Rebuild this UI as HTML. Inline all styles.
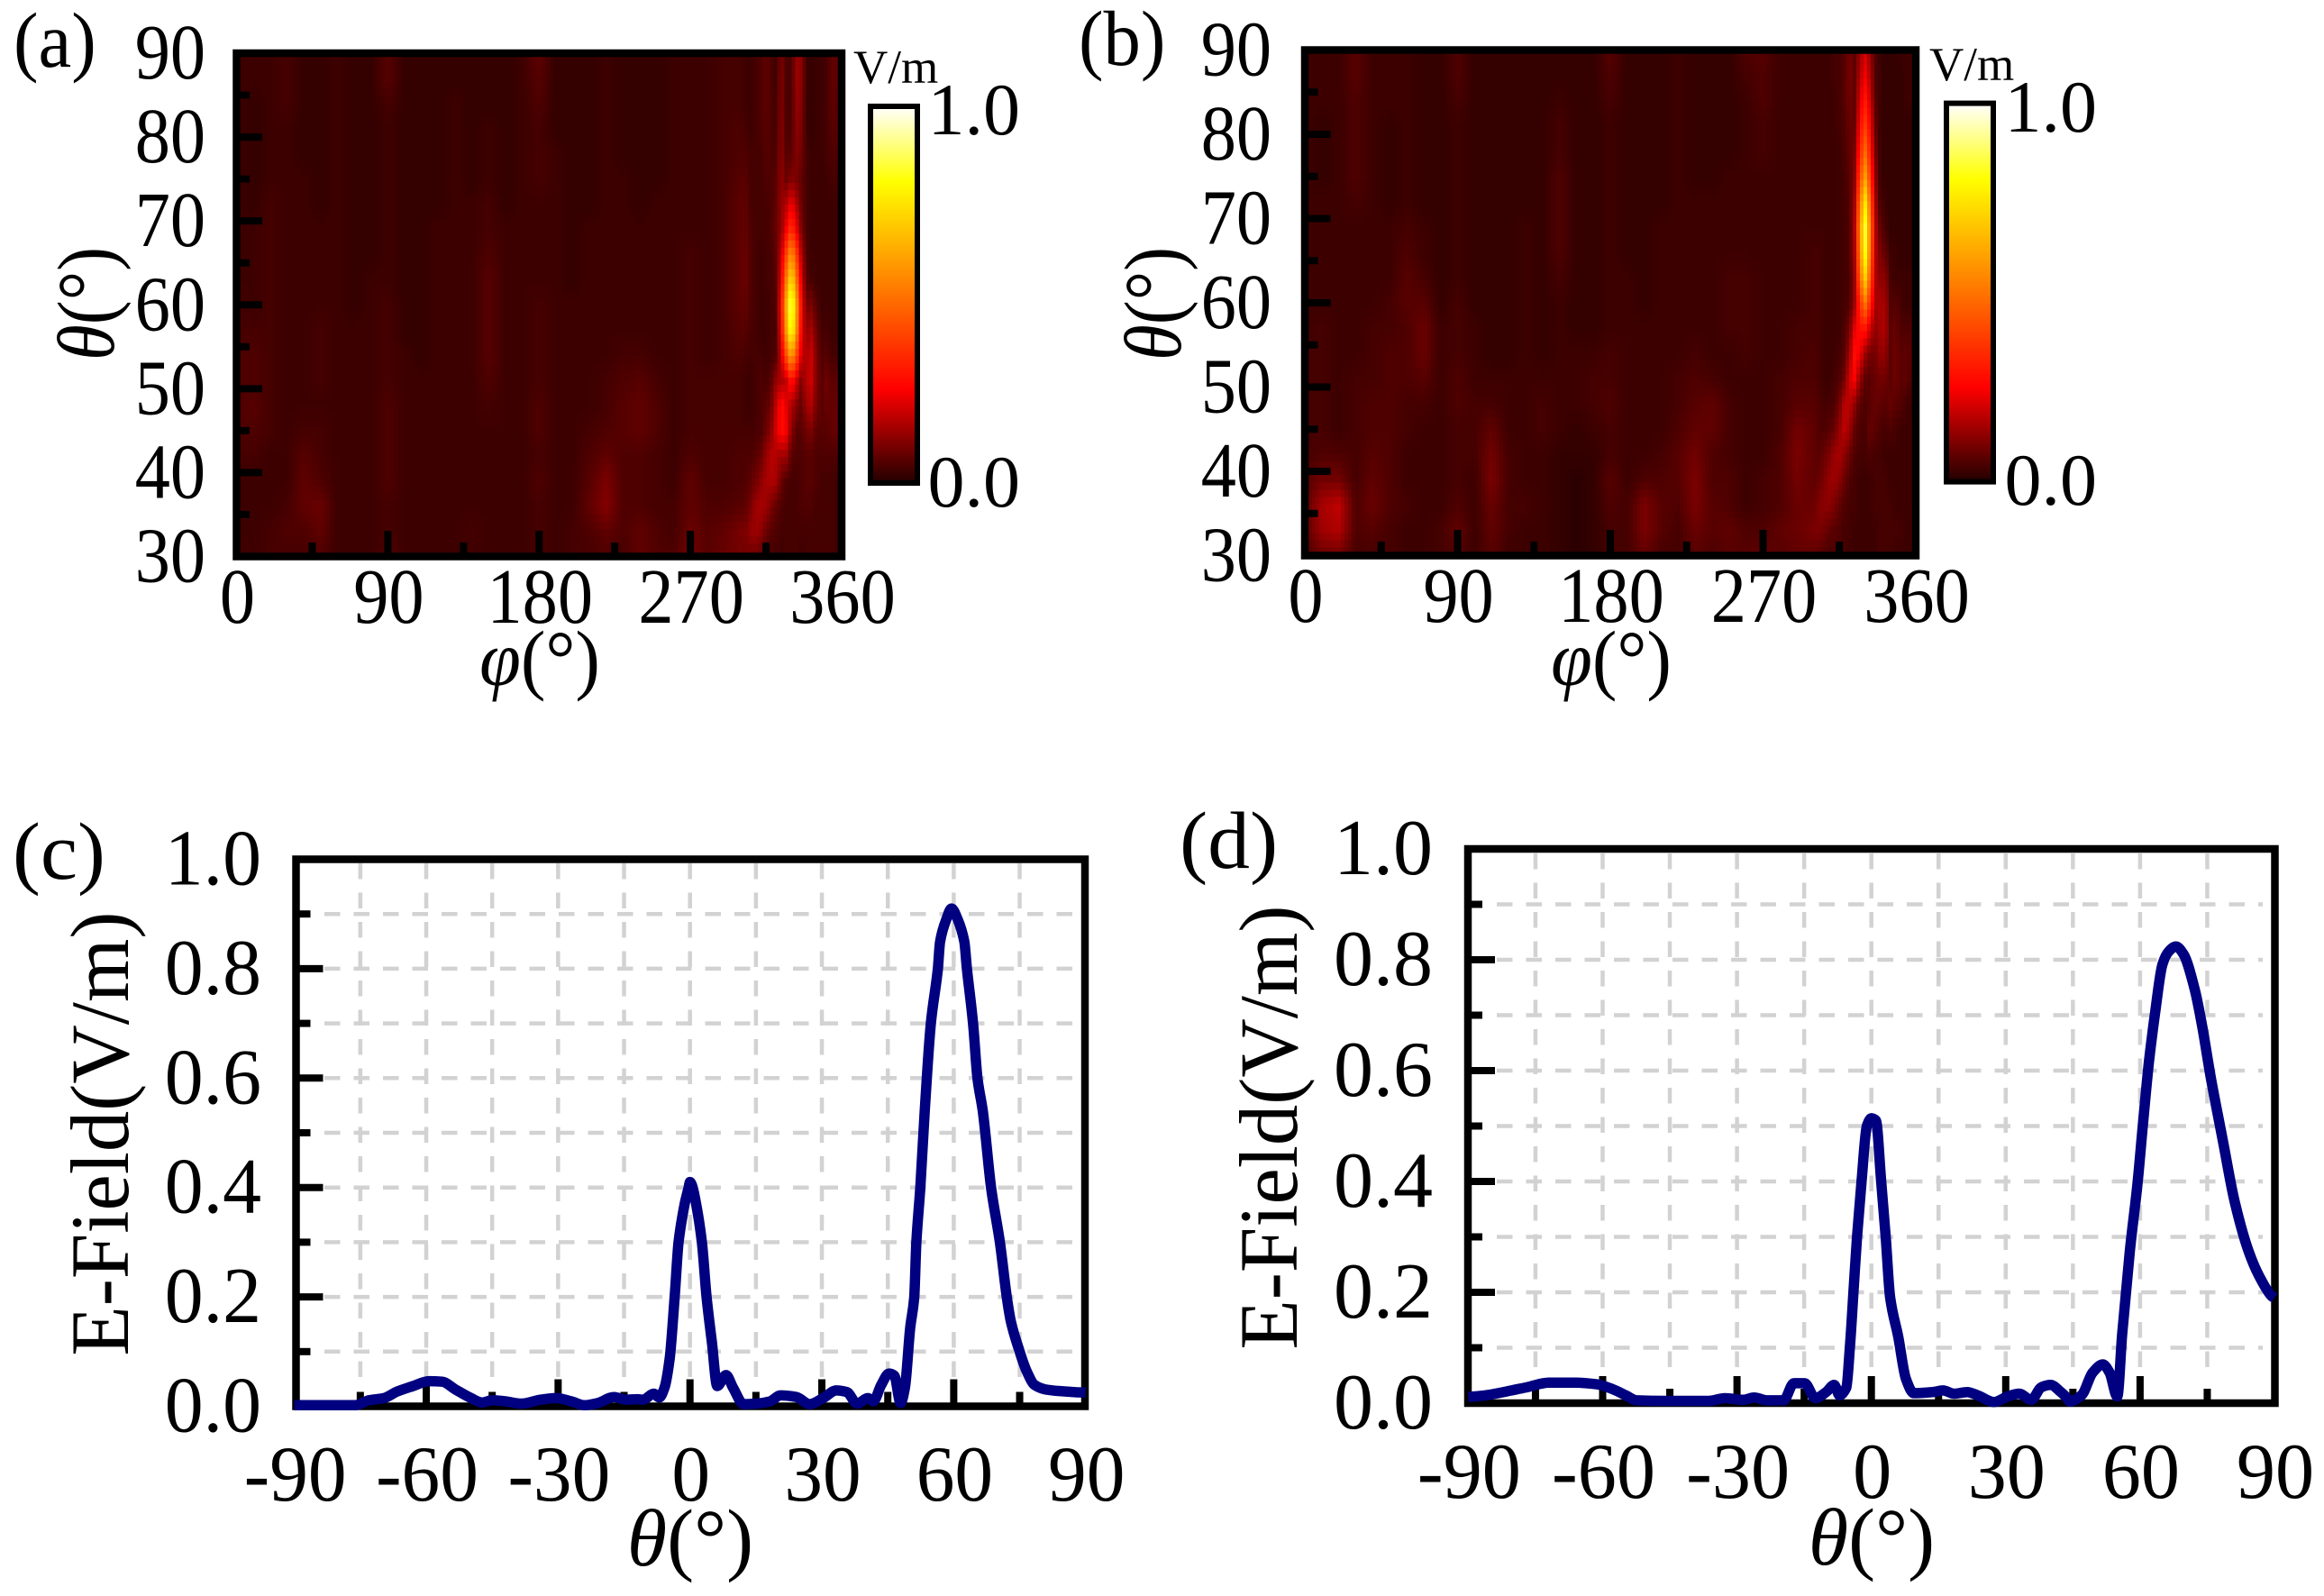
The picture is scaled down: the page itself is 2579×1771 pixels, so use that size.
<!DOCTYPE html>
<html lang="en">
<head>
<meta charset="utf-8">
<title>E-field heatmaps and cuts</title>
<style>
html,body{margin:0;padding:0;background:#fff;}
svg{display:block;}
text{font-family:"Liberation Serif","DejaVu Serif",serif;fill:#000;}
</style>
</head>
<body>
<svg id="figure" xmlns="http://www.w3.org/2000/svg" width="2579" height="1771" viewBox="0 0 2579 1771">
  <defs>
    <linearGradient id="cmapGrad" x1="0" y1="1" x2="0" y2="0"></linearGradient>
  </defs>
  <rect x="0" y="0" width="2579" height="1771" fill="#fff"/>
  <g id="panel-a"></g>
  <g id="panel-b"></g>
  <g id="panel-c"></g>
  <g id="panel-d"></g>

  <text font-size="87" transform="translate(15,74) scale(.95,1)">(a)</text>
  <text font-size="87" transform="translate(1197,72) scale(.95,1)">(b)</text>
  <text font-size="90" transform="translate(14,975) scale(1.03,1)">(c)</text>
  <text font-size="90" transform="translate(1309,963) scale(1.04,1)">(d)</text>

  <text font-size="87" text-anchor="middle" transform="translate(599,760) scale(.95,1)"><tspan font-style="italic">φ</tspan>(°)</text>
  <text font-size="90" text-anchor="middle" transform="translate(126,337) rotate(-90) scale(.9,1)"><tspan font-style="italic">θ</tspan>(°)</text>
  <text font-size="87" text-anchor="middle" transform="translate(1788,760) scale(.95,1)"><tspan font-style="italic">φ</tspan>(°)</text>
  <text font-size="90" text-anchor="middle" transform="translate(1310,337) rotate(-90) scale(.9,1)"><tspan font-style="italic">θ</tspan>(°)</text>

  <text font-size="53" transform="translate(947,92)">V/m</text>
  <text font-size="53" transform="translate(2141,89)">V/m</text>

  <text font-size="90" text-anchor="middle" transform="translate(766,1737)"><tspan font-style="italic">θ</tspan>(°)</text>
  <text font-size="92" text-anchor="middle" transform="translate(142,1258) rotate(-90) scale(.985,1)">E-Field(V/m)</text>
  <text font-size="90" text-anchor="middle" transform="translate(2077,1736)"><tspan font-style="italic">θ</tspan>(°)</text>
  <text font-size="92" text-anchor="middle" transform="translate(1439,1251) rotate(-90) scale(.985,1)">E-Field(V/m)</text>
</svg>

<script>
// ---------- heatmap axes (degrees) ----------
const phiColumns = [0,10,20,30,40,50,60,70,80,90,100,110,120,130,140,150,160,170,180,190,200,210,220,230,240,250,260,270,280,290,300,
  303,306,309,312,315,318,321,324,327,330,333,336,339,342,345,348,351,354,357,360];
const thetaRows = [90,87,84,81,78,75,72,69,66,63,60,57,54,51,48,45,42,39,36,33,30];

// ---------- panel (a) field magnitude, percent of 1 V/m, one row per thetaRows entry ----------
const heatA = [
[3,3,3,4,2,2,3,2,2,6,2,2,2,2,2,2,2,3,7,2,2,2,3,2,2,2,3,3,3,4,4, 3,3,4,5,7,5,3,10,5,4,13,12,3,2,3,3,4,7,7,3],
[3,3,3,4,2,2,3,2,2,6,2,2,2,2,2,2,2,3,6,2,2,2,3,2,2,2,3,3,3,4,4, 3,3,4,5,7,5,3,11,5,4,14,12,3,2,3,3,4,7,7,3],
[3,2,3,4,2,2,3,2,2,4,2,2,2,3,2,2,2,3,5,2,2,2,3,2,2,2,3,3,3,4,4, 3,3,4,5,7,5,4,11,5,4,13,11,3,2,3,3,4,7,6,3],
[3,2,3,3,2,2,3,2,2,3,2,2,2,3,2,3,2,3,4,2,2,2,3,2,2,2,3,3,3,4,5, 4,3,4,5,6,5,4,12,5,5,12,10,3,2,3,3,4,6,6,3],
[3,2,3,3,2,2,3,2,2,3,2,2,2,3,2,3,2,3,4,3,2,2,3,2,2,2,3,3,3,4,5, 5,4,4,4,6,5,5,12,6,6,11,9,4,3,3,3,4,5,5,3],
[3,2,3,3,3,2,3,2,2,3,2,2,2,3,2,3,2,3,4,3,2,2,3,3,2,2,3,3,3,4,6, 6,4,4,4,5,5,6,13,8,11,10,7,4,3,3,3,3,4,4,3],
[3,2,4,3,3,2,3,2,2,3,2,2,2,3,3,4,2,3,3,3,2,2,3,3,2,3,3,3,3,4,7, 7,4,4,4,4,5,7,13,16,24,16,8,4,3,3,3,3,3,3,3],
[3,3,4,3,3,3,3,2,2,3,2,2,3,3,3,4,3,3,3,3,2,3,3,3,3,3,3,3,3,4,7, 7,5,4,4,4,5,8,12,24,36,24,10,4,3,3,3,3,3,3,3],
[3,3,4,3,3,3,3,2,2,3,2,2,3,3,3,5,3,3,3,3,2,3,3,3,3,3,3,4,3,4,7, 8,5,4,3,4,4,7,17,39,58,39,16,5,3,3,3,3,3,3,3],
[3,3,4,3,3,3,3,2,3,3,2,2,3,3,3,6,3,3,3,3,2,3,3,3,3,3,3,4,3,4,7, 8,5,4,3,4,4,6,21,51,75,51,21,6,4,3,3,3,3,3,3],
[4,3,4,3,3,3,3,2,3,4,2,2,3,3,3,6,3,3,4,3,3,3,3,3,3,3,3,4,3,4,7, 7,5,4,3,3,4,5,26,62,92,62,26,9,10,5,3,3,3,3,3],
[4,4,4,3,3,4,3,3,3,4,2,2,3,3,3,6,3,3,4,3,3,3,3,3,3,3,3,4,3,4,6, 6,4,4,3,3,4,4,24,58,86,58,24,12,15,8,4,4,3,3,3],
[5,5,4,3,3,4,3,3,3,4,3,2,3,3,3,6,3,3,4,3,3,3,3,4,4,3,3,4,3,4,5, 4,4,4,4,3,4,5,18,42,62,42,20,15,19,10,5,6,4,4,3],
[5,5,4,3,3,4,3,3,3,4,3,3,3,3,3,5,3,3,4,3,3,3,4,5,6,4,3,4,4,4,4, 3,3,4,5,4,6,13,15,18,30,20,10,17,19,10,6,9,6,7,4],
[5,6,4,3,3,3,3,3,3,5,3,3,3,3,3,4,3,3,5,3,3,3,4,6,7,5,3,4,4,4,4, 3,3,4,5,6,9,18,28,22,16,11,7,14,16,9,6,8,7,8,4],
[5,5,4,3,4,4,3,3,3,5,3,3,3,3,3,3,3,3,5,3,3,4,5,6,7,5,3,4,4,4,4, 4,4,4,5,8,12,20,28,24,12,6,6,9,10,6,6,6,7,8,4],
[4,4,3,3,6,4,3,3,3,5,3,3,3,3,3,3,3,3,4,3,3,5,7,5,5,4,3,5,4,4,5, 5,5,6,8,13,17,16,14,14,6,5,5,6,6,5,5,5,5,5,3],
[3,3,3,3,7,5,3,3,3,5,3,3,3,3,3,3,3,3,5,3,3,6,10,5,5,4,3,7,4,4,5, 5,7,9,12,15,16,15,8,5,4,4,5,6,6,5,4,4,4,3,3],
[3,3,3,4,7,8,3,3,3,4,3,3,3,3,3,3,3,3,4,3,3,7,11,5,5,4,4,7,5,5,6, 7,10,14,15,14,10,7,5,4,4,4,5,5,5,4,4,4,4,3,3],
[3,3,4,5,5,7,3,3,3,4,3,3,3,3,4,3,3,3,4,3,4,5,7,5,7,5,4,8,6,7,10, 10,13,14,12,8,6,5,4,4,4,4,4,4,4,4,4,4,4,3,3],
[4,3,4,4,4,5,3,3,3,5,3,3,3,3,3,3,3,3,4,3,4,4,5,4,7,5,5,9,6,8,9, 9,9,8,7,5,4,4,3,4,4,4,3,4,4,4,4,4,4,3,3]
];

// ---------- panel (b) field magnitude, percent of 1 V/m ----------
const heatB = [
[3,3,3,6,3,3,3,2,2,5,2,2,2,2,2,2,2,2,6,2,2,2,3,2,2,2,5,6,3,3,3, 3,3,3,4,4,6,9,6,13,20,13,5,3,2,2,2,3,3,3,3],
[3,3,3,6,3,3,3,2,2,5,2,2,2,2,2,2,2,2,5,2,2,2,3,2,2,2,4,5,3,3,3, 3,3,3,4,4,6,10,7,16,24,16,5,3,2,2,2,2,3,3,3],
[3,3,3,5,3,3,3,2,2,4,2,2,2,2,2,3,2,2,4,2,2,2,3,2,2,2,3,5,3,3,3, 3,3,3,3,4,6,9,7,20,30,20,6,3,2,2,2,2,3,3,3],
[3,2,3,5,3,2,3,2,2,3,2,2,2,2,2,4,2,2,3,2,2,2,3,2,2,2,3,4,3,3,3, 3,3,3,3,4,5,8,8,25,38,25,8,3,2,2,2,2,2,2,2],
[3,2,3,5,3,2,3,2,2,3,2,2,2,2,2,4,2,2,3,2,2,2,3,2,2,2,3,4,3,3,3, 3,3,3,3,3,5,7,10,31,48,31,10,3,2,2,2,2,2,2,2],
[3,2,3,5,3,2,3,2,2,3,2,2,2,2,2,5,2,2,3,2,2,2,3,2,2,3,3,3,3,3,3, 3,3,3,3,3,4,6,12,39,60,39,12,3,2,2,2,2,2,2,2],
[3,3,3,4,3,2,3,2,2,3,2,2,2,2,2,5,2,2,3,2,2,2,3,3,3,3,3,3,3,3,3, 3,3,3,3,3,4,5,15,49,76,49,15,4,3,2,2,2,2,2,2],
[3,3,3,3,3,3,4,3,2,3,2,2,2,3,2,5,2,2,3,2,2,3,3,3,3,3,3,3,3,3,3, 3,3,3,3,3,4,5,17,55,86,55,17,7,4,2,2,2,2,2,2],
[3,3,3,3,3,3,5,3,2,3,2,2,2,3,2,5,2,2,3,2,2,3,3,3,3,3,3,3,3,3,4, 4,3,3,3,3,4,5,16,53,84,53,17,10,7,3,3,2,2,2,2],
[3,3,3,3,3,3,6,4,2,3,2,2,2,3,2,4,2,2,3,3,2,3,3,3,3,4,4,3,3,3,4, 4,3,3,3,3,4,4,14,46,72,46,16,12,12,4,3,3,3,3,2],
[3,3,3,3,3,4,6,6,2,4,2,2,2,3,2,3,2,2,3,3,2,3,3,3,3,4,4,3,3,3,4, 4,3,3,3,3,4,5,14,34,52,34,15,15,15,5,6,4,3,3,2],
[3,4,3,3,4,4,5,8,3,4,3,2,2,3,2,3,2,2,3,3,3,3,3,3,3,4,4,3,3,4,4, 4,3,3,3,3,5,9,22,28,30,20,12,15,16,6,8,5,5,5,3],
[4,4,3,3,4,5,5,8,3,4,3,2,2,3,2,3,3,3,4,3,3,3,3,4,3,3,4,3,3,4,5, 4,3,3,3,4,6,14,28,24,14,9,9,13,13,6,9,6,7,6,3],
[4,4,3,4,4,5,5,6,3,5,3,3,3,3,3,3,3,4,4,3,3,3,4,5,4,3,3,3,4,5,5, 4,3,3,4,5,9,20,25,13,7,6,8,9,9,6,9,6,7,5,3],
[4,4,3,4,5,5,4,4,3,5,4,4,3,3,4,3,3,4,5,3,3,3,4,6,7,4,3,3,4,6,6, 5,4,4,5,9,17,18,12,6,5,6,8,7,6,8,6,6,4,3,2],
[4,4,3,4,5,5,4,3,3,4,4,7,3,3,4,3,2,3,4,3,3,3,5,7,7,4,3,3,4,9,7, 5,5,6,8,13,18,14,7,5,4,8,6,5,4,5,4,3,3,3,2],
[4,5,5,4,6,5,3,3,3,4,4,9,4,3,3,2,2,2,4,3,3,4,6,9,5,4,3,3,5,10,7, 6,8,10,14,15,12,8,5,4,4,5,4,4,3,3,3,3,3,3,2],
[5,9,9,4,7,5,3,3,3,4,3,10,4,3,3,2,1,2,6,3,5,5,6,10,5,5,3,4,5,9,7, 8,10,13,14,12,8,5,4,3,3,3,4,4,4,3,3,3,3,3,2],
[6,15,18,5,8,5,4,3,3,5,3,8,4,4,3,2,1,2,5,4,10,6,5,10,6,5,3,4,5,8,8, 11,12,12,10,7,5,4,4,3,3,3,4,4,4,4,3,3,3,3,3],
[6,14,16,5,6,4,3,3,4,7,3,7,4,3,3,2,1,2,4,4,10,6,4,8,6,7,5,5,7,8,10, 10,9,7,6,5,4,4,3,3,3,3,3,4,4,4,4,4,3,3,3],
[4,8,9,4,4,4,3,3,4,5,3,6,3,3,3,2,1,2,4,4,7,4,4,6,5,6,6,7,6,7,7, 6,5,4,5,5,4,3,3,3,3,3,3,4,4,4,3,3,3,3,3]
];

// ---------- panel (c) curve ----------
const thetaC = [-90,-76.2,-73,-69.6,-66.6,-63,-59.4,-56.4,-53.4,-49.8,-47.3,-45,-42,-38.3,-34,-30.5,-27,-24,-21,-17.3,-14.6,-11.9,-10.7,-8.2,-7,-5.8,-4.6,-3.5,-2.6,-1.2,-0.3,0,0.4,1.4,2.7,3.8,5,6.2,8.2,9.8,12.2,15.2,18.2,20.6,24.2,27.2,30.3,33.3,35.7,38,40.5,41.7,43.5,45.3,46.5,47.9,48.9,50.1,51,51.5,52.4,53.4,54.8,56.4,56.9,58.3,59.5,60.9,62.4,63,64.4,65.4,66.6,68.5,70.5,72.1,73,74.8,76.6,78.4,80.8,83.8,87.4,90];
const fieldC = [0.002,0.002,0.011,0.015,0.027,0.037,0.046,0.045,0.031,0.015,0.007,0.011,0.009,0.005,0.012,0.015,0.009,0.002,0.006,0.017,0.012,0.013,0.012,0.023,0.016,0.034,0.089,0.198,0.3,0.37,0.4,0.41,0.405,0.37,0.3,0.198,0.116,0.037,0.057,0.034,0.004,0.005,0.009,0.02,0.017,0.004,0.015,0.029,0.026,0.005,0.015,0.009,0.039,0.06,0.056,0.006,0.034,0.144,0.198,0.3,0.4,0.54,0.7,0.8,0.85,0.89,0.91,0.89,0.85,0.8,0.7,0.6,0.54,0.4,0.3,0.198,0.155,0.105,0.064,0.039,0.031,0.028,0.026,0.025];

// ---------- panel (d) curve ----------
const thetaD = [-90,-86.3,-81.5,-76.8,-72,-66,-61.3,-57.7,-54.8,-52.4,-45.8,-36.3,-32.7,-28.6,-26.2,-23.2,-19.6,-17.3,-14.9,-12.5,-10.1,-8.3,-7.1,-5.6,-4.8,-4,-3.2,-2.2,-1,0,1,2.2,3.2,4.2,6,7.7,9.5,13.7,16,18.5,21.4,23.8,27.4,30.4,33,35.7,38,40,42.3,43.6,44.3,47,49.4,51.7,53.2,54.9,56,57.7,59.4,60.7,62,63.4,65,66.4,68,69.7,72.1,73.8,75.8,78.5,81.1,84.5,87.2,89.4,90];
const fieldD = [0.011,0.014,0.021,0.029,0.037,0.037,0.034,0.025,0.014,0.005,0.004,0.004,0.009,0.006,0.01,0.005,0.005,0.036,0.036,0.009,0.02,0.033,0.014,0.028,0.1,0.2,0.3,0.4,0.5,0.514,0.51,0.4,0.3,0.19,0.12,0.044,0.018,0.02,0.023,0.017,0.02,0.014,0.002,0.012,0.017,0.006,0.029,0.033,0.02,0.01,0.003,0.015,0.055,0.07,0.055,0.012,0.124,0.274,0.394,0.509,0.617,0.707,0.792,0.815,0.824,0.81,0.75,0.683,0.587,0.473,0.364,0.268,0.22,0.193,0.19];

// ---------- tick labels ----------
const phiTickLabels = ['0','90','180','270','360'];
const thetaTickLabels = ['30','40','50','60','70','80','90'];
const cutXTickLabels = ['-90','-60','-30','0','30','60','90'];
const cutYTickLabels = ['0.0','0.2','0.4','0.6','0.8','1.0'];
const colorbarLabels = ['0.0','1.0'];

// ---------- colormap anchors: value, r, g, b ----------
const cmapValues = [0,0.25,0.8,1];
const cmapReds = [34,255,255,255];
const cmapGreens = [0,0,255,255];
const cmapBlues = [0,0,0,255];

const NS = 'http://www.w3.org/2000/svg';

function svgEl(parent, tag) {
  const e = document.createElementNS(NS, tag);
  parent.appendChild(e);
  return e;
}

function drawLabel(parent, str, x, y, size, sx, anchor, name) {
  const t = svgEl(parent, 'text');
  
  
  t.setAttribute('font-size', size);
  t.setAttribute('text-anchor', anchor);
  t.setAttribute('transform', 'translate(' + x + ',' + y + ') scale(' + sx + ',1)');
  t.textContent = str;
  return t;
}

function drawTick(parent, x1, y1, x2, y2, name) {
  const l = svgEl(parent, 'line');
  
  
  l.setAttribute('x1', x1);
  l.setAttribute('y1', y1);
  l.setAttribute('x2', x2);
  l.setAttribute('y2', y2);
  l.setAttribute('stroke', '#000');
  l.setAttribute('stroke-width', 8);
  return l;
}

function drawFrame(parent, x, y, w, h, sw, name) {
  const r = svgEl(parent, 'rect');
  
  
  r.setAttribute('x', x);
  r.setAttribute('y', y);
  r.setAttribute('width', w);
  r.setAttribute('height', h);
  r.setAttribute('fill', 'none');
  r.setAttribute('stroke', '#000');
  r.setAttribute('stroke-width', sw);
  return r;
}

function colorFor(v) {
  const c = Math.max(0, Math.min(1, v));
  let i = 0;
  while (i < cmapValues.length - 2 && c > cmapValues[i + 1]) i++;
  const f = (c - cmapValues[i]) / (cmapValues[i + 1] - cmapValues[i]);
  const r = Math.round(cmapReds[i] + f * (cmapReds[i + 1] - cmapReds[i]));
  const g = Math.round(cmapGreens[i] + f * (cmapGreens[i + 1] - cmapGreens[i]));
  const b = Math.round(cmapBlues[i] + f * (cmapBlues[i + 1] - cmapBlues[i]));
  return 'rgb(' + r + ',' + g + ',' + b + ')';
}

function segmentIndex(list, v, descending) {
  let i = 0;
  if (descending) {
    while (i < list.length - 2 && v < list[i + 1]) i++;
  } else {
    while (i < list.length - 2 && v > list[i + 1]) i++;
  }
  return i;
}

function sampleHeat(grid, phi, theta) {
  const c = segmentIndex(phiColumns, phi, false);
  const r = segmentIndex(thetaRows, theta, true);
  const fc = Math.max(0, Math.min(1, (phi - phiColumns[c]) / (phiColumns[c + 1] - phiColumns[c])));
  const fr = Math.max(0, Math.min(1, (theta - thetaRows[r]) / (thetaRows[r + 1] - thetaRows[r])));
  const top = grid[r][c] * (1 - fc) + grid[r][c + 1] * fc;
  const bottom = grid[r + 1][c] * (1 - fc) + grid[r + 1][c + 1] * fc;
  return (top * (1 - fr) + bottom * fr) / 100;
}

// colormap gradient used by the colorbars
(function () {
  const grad = document.getElementById('cmapGrad');
  cmapValues.forEach(function (v) {
    const s = svgEl(grad, 'stop');
    s.setAttribute('offset', v);
    s.setAttribute('stop-color', colorFor(v));
  });
})();

function drawHeatPanel(cfg) {
  const root = document.getElementById(cfg.id);
  const xScale = function (phi) { return cfg.x0 + (phi / 360) * (cfg.x1 - cfg.x0); };
  const yScale = function (th) { return cfg.y0 + ((th - 30) / 60) * (cfg.y1 - cfg.y0); };
  const cells = svgEl(root, 'g');
  
  
  cells.setAttribute('shape-rendering', 'crispEdges');
  const stepX = 4, stepY = 8;
  for (let py = cfg.y1; py < cfg.y0; py += stepY) {
    for (let px = cfg.x0; px < cfg.x1; px += stepX) {
      const phi = ((px + stepX / 2 - cfg.x0) / (cfg.x1 - cfg.x0)) * 360;
      const th = 30 + ((cfg.y0 - (py + stepY / 2)) / (cfg.y0 - cfg.y1)) * 60;
      const rect = svgEl(cells, 'rect');
      
      
      rect.setAttribute('x', px);
      rect.setAttribute('y', py);
      rect.setAttribute('width', Math.min(stepX + 0.5, cfg.x1 - px));
      rect.setAttribute('height', Math.min(stepY + 0.5, cfg.y0 - py));
      rect.setAttribute('fill', colorFor(sampleHeat(cfg.grid, phi, th)));
    }
  }
  for (let th = 35; th < 90; th += 5) {
    const major = th % 10 === 0;
    drawTick(root, cfg.x0, yScale(th), cfg.x0 + (major ? 28.5 : 14.5), yScale(th), 'y-tick');
  }
  for (let p = 45; p < 360; p += 45) {
    const major = p % 90 === 0;
    drawTick(root, xScale(p), cfg.y0, xScale(p), cfg.y0 - (major ? 28.5 : 15.5), 'x-tick');
  }
  drawFrame(root, cfg.x0, cfg.y1, cfg.x1 - cfg.x0, cfg.y0 - cfg.y1, 8.5, 'plot-frame-' + cfg.key);
  thetaTickLabels.forEach(function (s) {
    drawLabel(root, s, cfg.yLabelX, yScale(Number(s)) + 28, 87, 0.9, 'end', 'y-tick-label');
  });
  phiTickLabels.forEach(function (s) {
    drawLabel(root, s, xScale(Number(s)) + 1, cfg.xLabelY, 87, 0.9, 'middle', 'x-tick-label');
  });
  const bar = svgEl(root, 'rect');
  
  
  bar.setAttribute('x', cfg.barX);
  bar.setAttribute('y', cfg.barY);
  bar.setAttribute('width', 52);
  bar.setAttribute('height', cfg.barH);
  bar.setAttribute('fill', 'url(#cmapGrad)');
  bar.setAttribute('stroke', '#000');
  bar.setAttribute('stroke-width', 6);
  drawLabel(root, colorbarLabels[1], cfg.barLabelX, cfg.barTopBase, 82, 1, 'end', 'colorbar-max-label');
  drawLabel(root, colorbarLabels[0], cfg.barLabelX, cfg.barBottomBase, 82, 1, 'end', 'colorbar-min-label');
}

function drawGridLine(parent, x1, y1, x2, y2, name) {
  const l = svgEl(parent, 'line');
  
  
  l.setAttribute('x1', x1);
  l.setAttribute('y1', y1);
  l.setAttribute('x2', x2);
  l.setAttribute('y2', y2);
  l.setAttribute('stroke', '#d2d2d2');
  l.setAttribute('stroke-width', 4.5);
  l.setAttribute('stroke-dasharray', '17.5 15');
  return l;
}

// monotone cubic path through the pixel points, so the rounded peaks do not overshoot
function smoothPath(xs, ys) {
  const n = xs.length;
  const m = [];
  for (let i = 0; i < n; i++) {
    if (i === 0 || i === n - 1) {
      const a = i === 0 ? 0 : n - 2;
      m.push((ys[a + 1] - ys[a]) / (xs[a + 1] - xs[a]));
    } else {
      const s0 = (ys[i] - ys[i - 1]) / (xs[i] - xs[i - 1]);
      const s1 = (ys[i + 1] - ys[i]) / (xs[i + 1] - xs[i]);
      m.push(s0 * s1 <= 0 ? 0 : 2 * s0 * s1 / (s0 + s1));
    }
  }
  let d = 'M' + xs[0].toFixed(1) + ' ' + ys[0].toFixed(1);
  for (let i = 0; i < n - 1; i++) {
    const h = (xs[i + 1] - xs[i]) / 3;
    d += ' C' + (xs[i] + h).toFixed(1) + ' ' + (ys[i] + m[i] * h).toFixed(1) + ' ' +
      (xs[i + 1] - h).toFixed(1) + ' ' + (ys[i + 1] - m[i + 1] * h).toFixed(1) + ' ' +
      xs[i + 1].toFixed(1) + ' ' + ys[i + 1].toFixed(1);
  }
  return d;
}

function drawCutPanel(cfg) {
  const root = document.getElementById(cfg.id);
  const xScale = function (t) { return cfg.xZero + t * cfg.xPerDeg; };
  const yScale = function (v) { return cfg.y0 + v * (cfg.y1 - cfg.y0); };
  for (let k = 1; k < 10; k++) {
    drawGridLine(root, cfg.gridX0, yScale(k / 10), cfg.gridX1, yScale(k / 10), 'horizontal-grid-line');
  }
  for (let t = -75; t <= 75; t += 15) {
    drawGridLine(root, xScale(t), cfg.gridY0, xScale(t), cfg.gridY1, 'vertical-grid-line');
  }
  for (let k = 1; k < 10; k++) {
    const major = k % 2 === 0;
    drawTick(root, cfg.frameX0, yScale(k / 10), cfg.frameX0 + (major ? 30 : 16), yScale(k / 10), 'y-tick');
  }
  for (let t = -75; t <= 75; t += 15) {
    const major = t % 30 === 0;
    drawTick(root, xScale(t), cfg.y0, xScale(t), cfg.y0 - (major ? 30 : 16), 'x-tick');
  }
  drawFrame(root, cfg.frameX0, cfg.y1, cfg.frameX1 - cfg.frameX0, cfg.y0 - cfg.y1, 8.5, 'plot-frame-' + cfg.key);
  cutYTickLabels.forEach(function (s) {
    drawLabel(root, s, cfg.yLabelX, yScale(Number(s)) + 28, 88, cfg.yLabelSx, 'end', 'y-tick-label');
  });
  cutXTickLabels.forEach(function (s) {
    drawLabel(root, s, xScale(Number(s)) + 1, cfg.xLabelY, 88, cfg.xLabelSx, 'middle', 'x-tick-label');
  });
  const xs = cfg.thetas.map(xScale);
  const ys = cfg.values.map(yScale);
  const line = svgEl(root, 'path');
  
  
  line.setAttribute('d', smoothPath(xs, ys));
  line.setAttribute('fill', 'none');
  line.setAttribute('stroke', '#000080');
  line.setAttribute('stroke-width', 11.5);
  line.setAttribute('stroke-linejoin', 'round');
}

drawHeatPanel({id:'panel-a', key:'a', grid:heatA, x0:262.5, x1:934, y0:617.5, y1:59,
  yLabelX:228, xLabelY:691, barX:966, barY:118, barH:418, barLabelX:1132, barTopBase:149, barBottomBase:562});
drawHeatPanel({id:'panel-b', key:'b', grid:heatB, x0:1448, x1:2126, y0:616.5, y1:55.5,
  yLabelX:1411, xLabelY:690, barX:2160, barY:114.6, barH:420, barLabelX:2327, barTopBase:146, barBottomBase:560});
drawCutPanel({id:'panel-c', key:'c', thetas:thetaC, values:fieldC, xZero:765.7, xPerDeg:4.878,
  frameX0:328.5, frameX1:1204, y0:1560.5, y1:953.5, gridX0:360, gridX1:1192, gridY0:958, gridY1:1532,
  yLabelX:290, xLabelY:1665, yLabelSx:0.975, xLabelSx:0.97});
drawCutPanel({id:'panel-d', key:'d', thetas:thetaD, values:fieldD, xZero:2076.7, xPerDeg:4.97,
  frameX0:1629, frameX1:2524.5, y0:1557, y1:942, gridX0:1661, gridX1:2511, gridY0:947, gridY1:1525,
  yLabelX:1590, xLabelY:1662, yLabelSx:1, xLabelSx:0.98});
</script>
</body>
</html>
